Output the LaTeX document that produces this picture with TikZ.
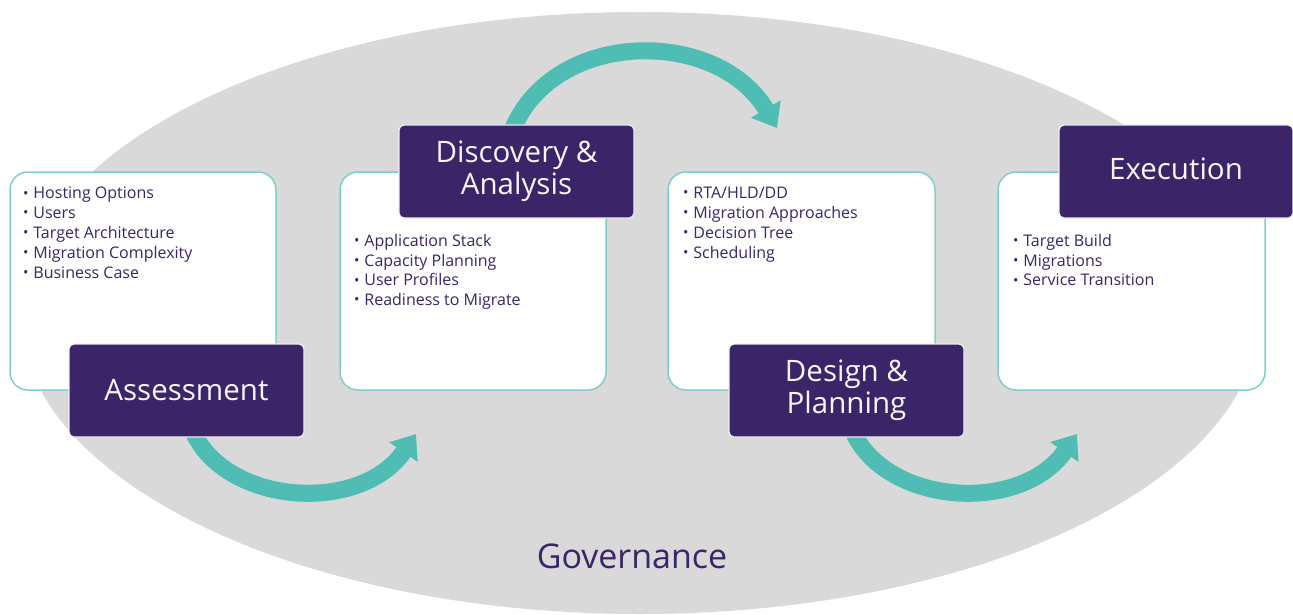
\documentclass[tikz,border=0pt]{standalone}
\usepackage{fontspec}
\setmainfont{Open Sans}
\usetikzlibrary{arrows.meta,calc}
\definecolor{purp}{HTML}{3C2468}
\definecolor{tealc}{HTML}{4FBDB4}
\definecolor{ellg}{HTML}{D9D9D9}
\definecolor{boxline}{HTML}{7ECFC8}
\newcommand{\bul}{\raisebox{0.05em}{\scalebox{0.9}{•}}\hspace{0.3em}}
\tikzset{
  wbox/.style={draw=boxline, line width=1.5pt, fill=white, rounded corners=18pt,
    minimum width=266pt, minimum height=218pt, inner sep=0pt},
  lbox/.style={draw=white!88!gray, line width=1.2pt, fill=purp, rounded corners=5pt,
    minimum width=235pt, minimum height=93pt, inner sep=0pt, text=white!96!purp,
    align=center, font=\fontsize{29.5}{32}\selectfont},
  blist/.style={anchor=north west, inner sep=0pt, align=left, text=purp,
    font=\fontsize{16}{19.8}\selectfont},
  flow/.style={draw=tealc, line width=17pt, -{Triangle[length=22pt,width=33pt]}}
}
\begin{document}
\begin{tikzpicture}[x=1pt,y=-1pt]
\useasboundingbox (0,0) rectangle (1293,615);
\fill[ellg] (640,313) ellipse [x radius=620pt, y radius=301pt];

% content boxes
\node[wbox] (b1) at (143,281) {};
\node[wbox] (b2) at (473,281) {};
\node[wbox, minimum width=267pt] (b3) at (801.5,281) {};
\node[wbox, minimum width=267pt] (b4) at (1131.5,281) {};

% lists
\node[blist] (t1) at (23,187) {\bul Hosting Options\\ \bul Users\\ \bul Target Architecture\\ \bul Migration Complexity\\ \bul Business Case};
\node[blist] (t2) at (354,234) {\bul Application Stack\\ \bul Capacity Planning\\ \bul User Profiles\\ \bul Readiness to Migrate};
\node[blist] (t3) at (683,187) {\bul RTA/HLD/DD\\ \bul Migration Approaches\\ \bul Decision Tree\\ \bul Scheduling};
\node[blist] (t4) at (1013,234) {\bul Target Build\\ \bul Migrations\\ \bul Service Transition};

% label positions
\coordinate (la) at (186.5,390.5);
\coordinate (lb) at (516.5,171.5);
\coordinate (lc) at (846.5,390.5);

% flow arrows
\coordinate (e1) at (416,434);
\coordinate (e2) at (777,128);
\coordinate (e3) at (1077,434);
\draw[flow] ($(la)+(6,40)$) .. controls (225,505) and (360,515) .. (e1);
\draw[flow] ($(lb)+(-4,-42)$) .. controls (555,28) and (718,28) .. (e2);
\draw[flow] ($(lc)+(6,40)$) .. controls (885,505) and (1020,515) .. (e3);

% labels
\node[lbox] (a) at (la) {Assessment};
\node[lbox] (b) at (lb) {Discovery \&\\Analysis};
\node[lbox] (c) at (lc) {Design \&\\Planning};
\node[lbox, minimum width=234pt, text depth=6pt] (d) at (1176,171.5) {Execution};

\node[text=purp, font=\fontsize{34}{40}\selectfont] (g) at (632,556) {Governance};
\end{tikzpicture}
\end{document}
